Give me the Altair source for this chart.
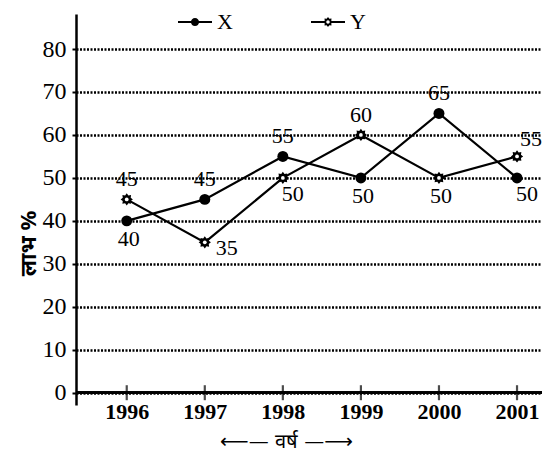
import math
import altair as alt
import pandas as pd

# ---------------- data ----------------
years = [1996, 1997, 1998, 1999, 2000, 2001]
x_values = [40, 45, 55, 50, 65, 50]
y_values = [45, 35, 50, 60, 50, 55]
series_names = ["X", "Y"]
# where each value label sits relative to its point
x_label_pos = ["below", "above", "above", "below", "above", "below-right"]
y_label_pos = ["above", "right", "below-right", "above", "below", "above-right"]
y_ticks = [0, 10, 20, 30, 40, 50, 60, 70, 80]
y_title = "लाभ %"
x_title = "⟵—  वर्ष  —⟶"

df = pd.DataFrame({
    "year": years * 2,
    "value": x_values + y_values,
    "series": ["X"] * len(years) + ["Y"] * len(years),
    "pos": x_label_pos + y_label_pos,
})
df["label"] = df["value"].astype(str)
ticks_df = pd.DataFrame({"year": years})

# ---------------- styles ----------------
SERIF = "Liberation Serif, Times New Roman, serif"
label_offsets = {
    "above": (0, -20),
    "below": (2, 18),
    "below-right": (10, 16),
    "right": (22, 6),
    "above-right": (14, -17),
}


def circle_cw(r):
    return f"M{-r},0A{r},{r},0,1,1,{r},0A{r},{r},0,1,1,{-r},0Z"


def circle_ccw(r):
    return f"M{r},0A{r},{r},0,1,0,{-r},0A{r},{r},0,1,0,{r},0Z"


def star_path(n, R, r):
    pts = []
    for k in range(2 * n):
        a = -math.pi / 2 + k * math.pi / n
        rad = R if k % 2 == 0 else r
        pts.append((rad * math.cos(a), rad * math.sin(a)))
    return "M" + "L".join(f"{x:.3f},{y:.3f}" for x, y in pts) + "Z"


def bar(x0, x1, t):
    return f"M{x0},{-t}H{x1}V{t}H{x0}Z"


# legend symbols: filled line segment + marker (unit = half the symbol box)
lt = 0.065
legend_x_path = bar(-1, 1, lt) + circle_cw(0.24)
legend_y_path = (bar(-1, -0.2, lt) + bar(0.2, 1, lt)
                 + star_path(8, 0.29, 0.21) + circle_ccw(0.1))
data_star = star_path(8, 1.0, 0.7)

x_scale = alt.Scale(domain=[1995.35, 2001.32], nice=False, zero=False)
y_scale = alt.Scale(domain=[-2.86, 88.15], nice=False, zero=False)

x_enc = alt.X(
    "year:Q",
    scale=x_scale,
    axis=alt.Axis(
        values=years, format="d", domain=False, ticks=False, tickSize=0, grid=False,
        labelFont=SERIF, labelFontWeight="bold", labelFontSize=22, labelColor="black",
        labelPadding=-4,
        title=x_title, titleFont="DejaVu Sans", titleFontSize=20, titleFontWeight="normal",
        titleColor="black", titleX=210, titleY=36, titleAlign="center", titleBaseline="middle",
    ),
)
y_enc = alt.Y(
    "value:Q",
    scale=y_scale,
    axis=alt.Axis(
        values=y_ticks, grid=True, gridColor="black", gridDash=[2, 1.5], gridWidth=2.4,
        gridOpacity=1, domainColor="black", domainWidth=2.5, tickColor="black",
        tickSize=4, tickWidth=2, labelFont=SERIF, labelFontSize=24, labelColor="black",
        labelPadding=6,
        title=y_title, titleFont="Noto Sans", titleFontSize=22, titleFontWeight="bold",
        titleColor="black", titleAngle=270, titleX=-48, titleY=229,
        titleAlign="center", titleBaseline="middle",
    ),
)

base = alt.Chart(df)

lines = base.mark_line(color="black", strokeWidth=2.2).encode(
    x=x_enc, y=y_enc, detail="series:N"
)

zero_rule = alt.Chart(ticks_df).mark_rule(color="black", strokeWidth=2.6).encode(
    y=alt.datum(0)
)

x_ticks = alt.Chart(ticks_df).mark_tick(
    orient="vertical", size=15, thickness=2.2, color="black"
).encode(x=alt.X("year:Q", scale=x_scale), y=alt.datum(0))

x_points = base.transform_filter("datum.series == 'X'").mark_point(
    filled=True, shape="circle", size=120, color="black", opacity=1
).encode(x="year:Q", y="value:Q")

y_points = base.transform_filter("datum.series == 'Y'").mark_point(
    filled=True, shape=data_star, size=150, color="black", opacity=1
).encode(x="year:Q", y="value:Q")

y_centers = base.transform_filter("datum.series == 'Y'").mark_point(
    filled=True, shape="circle", size=14, color="white", opacity=1
).encode(x="year:Q", y="value:Q")

label_layers = []
for pos, (dx, dy) in label_offsets.items():
    label_layers.append(
        base.transform_filter(f"datum.pos == '{pos}'").mark_text(
            font=SERIF, fontSize=22, color="black", dx=dx, dy=dy,
            align="center", baseline="middle",
        ).encode(x="year:Q", y="value:Q", text="label:N")
    )

legend_layer = base.transform_filter("false").mark_point(
    filled=True, color="black", opacity=1
).encode(
    shape=alt.Shape(
        "series:N",
        scale=alt.Scale(domain=series_names, range=[legend_x_path, legend_y_path]),
        legend=alt.Legend(
            title=None, orient="none", legendX=102, legendY=-9, direction="horizontal",
            symbolSize=1156, symbolFillColor="black", symbolStrokeWidth=0,
            symbolOpacity=1,
            labelFont=SERIF, labelFontSize=22, labelColor="black", labelOffset=5,
            columnPadding=78,
        ),
    )
)

chart = alt.layer(
    lines, zero_rule, x_ticks, x_points, y_points, y_centers, *label_layers, legend_layer
).properties(
    width=466,
    height=391,
    autosize=alt.AutoSizeParams(type="none"),
    padding={"left": 68, "top": 6, "right": 0, "bottom": 49},
    background="white",
).configure_view(stroke=None)

chart.save("out.html", embed_options={"renderer": "svg", "actions": False})
